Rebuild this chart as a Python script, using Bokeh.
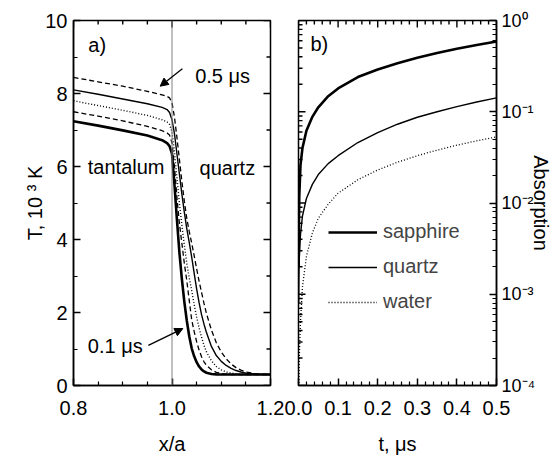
import math
from bokeh.plotting import figure
from bokeh.models import (Range1d, FixedTicker, PrintfTickFormatter, CustomJSTickFormatter,
                          Span, Label, Arrow, NormalHead, Legend, LegendItem)
from bokeh.layouts import row
from bokeh.embed import file_html
from bokeh.resources import INLINE

# ---------------- data: panel a (temperature profiles) ----------------
xa = [0.80, 0.85, 0.90, 0.95, 0.98, 0.99, 0.995, 1.000, 1.005, 1.010, 1.015, 1.020,
      1.025, 1.030, 1.035, 1.040, 1.045, 1.050, 1.055, 1.060, 1.065, 1.070, 1.080,
      1.090, 1.100, 1.110, 1.120, 1.130, 1.140, 1.150, 1.170, 1.200]
T_01 = [7.24, 7.12, 6.99, 6.85, 6.72, 6.64, 6.56, 6.35, 5.5, 4.55, 3.65, 2.92,
        2.3, 1.78, 1.35, 1.02, 0.8, 0.64, 0.52, 0.44, 0.385, 0.35, 0.315,
        0.305, 0.30, 0.30, 0.30, 0.30, 0.30, 0.30, 0.30, 0.30]
T_02 = [7.50, 7.38, 7.25, 7.10, 6.98, 6.92, 6.86, 6.65, 6.0, 5.15, 4.45, 3.9,
        3.35, 2.88, 2.33, 1.8, 1.48, 1.2, 0.97, 0.79, 0.65, 0.55, 0.43,
        0.36, 0.33, 0.31, 0.30, 0.30, 0.30, 0.30, 0.30, 0.30]
T_03 = [7.80, 7.67, 7.54, 7.40, 7.28, 7.22, 7.15, 6.95, 6.4, 5.7, 5.0, 4.4,
        3.85, 3.35, 2.95, 2.6, 2.22, 1.88, 1.58, 1.32, 1.1, 0.92, 0.68,
        0.52, 0.43, 0.37, 0.34, 0.32, 0.31, 0.30, 0.30, 0.30]
T_04 = [8.10, 7.98, 7.85, 7.72, 7.62, 7.56, 7.48, 7.28, 6.9, 6.35, 5.8, 5.25,
        4.75, 4.3, 3.92, 3.52, 3.08, 2.65, 2.27, 1.94, 1.68, 1.45, 1.07,
        0.82, 0.66, 0.55, 0.47, 0.41, 0.37, 0.34, 0.31, 0.30]
T_05 = [8.44, 8.32, 8.20, 8.06, 7.96, 7.92, 7.88, 7.75, 7.35, 6.8, 6.2, 5.6,
        5.05, 4.58, 4.22, 3.9, 3.56, 3.2, 2.86, 2.55, 2.25, 1.97, 1.52,
        1.17, 0.92, 0.73, 0.59, 0.49, 0.42, 0.37, 0.32, 0.30]

# ---------------- data: panel b (absorption) ----------------
tb = [0.0005, 0.001, 0.002, 0.005, 0.01, 0.02, 0.035, 0.05, 0.075, 0.1,
      0.15, 0.2, 0.25, 0.3, 0.35, 0.4, 0.45, 0.5]
sapphire = [0.002, 0.006, 0.012, 0.026, 0.040, 0.062, 0.088, 0.112, 0.148, 0.18,
            0.24, 0.29, 0.34, 0.39, 0.44, 0.49, 0.54, 0.59]
quartz = [0.0008, 0.0015, 0.0025, 0.0045, 0.0072, 0.0112, 0.016, 0.0205, 0.027, 0.033,
          0.046, 0.059, 0.073, 0.087, 0.1, 0.114, 0.128, 0.142]
water = [0.00005, 0.0001, 0.0002, 0.0005, 0.0012, 0.0026, 0.0047, 0.0068, 0.0097, 0.0128,
         0.018, 0.023, 0.028, 0.033, 0.038, 0.043, 0.048, 0.053]

# ---------------- ticks and tick labels ----------------
xa_ticks = [0.8, 1.0, 1.2]
xa_minor = [0.85, 0.9, 0.95, 1.05, 1.1, 1.15]
ya_ticks = [0, 2, 4, 6, 8, 10]
ya_minor = [1, 3, 5, 7, 9]
tb_ticks = [0.0, 0.1, 0.2, 0.3, 0.4, 0.5]
tb_minor = [round(0.02 * i, 2) for i in range(26) if i % 5]
yb_ticks = [1.0, 1e-1, 1e-2, 1e-3, 1e-4]
yb_labels = ["10\u2070", "10\u207b\u00b9", "10\u207b\u00b2", "10\u207b\u00b3", "10\u207b\u2074"]
yb_minor = [m * 10.0 ** e for e in range(-4, 0) for m in range(2, 10)]

FONT = "Liberation Sans"
FS = "20px"
MAJ = 7
MIN = 4
H = 462
TOP = 20
BOTTOM = 77


def style_axis(ax):
    ax.axis_line_width = 1.5
    ax.axis_line_color = "black"
    ax.major_tick_in = MAJ
    ax.major_tick_out = 0
    ax.minor_tick_in = MIN
    ax.minor_tick_out = 0
    ax.major_tick_line_width = 1.5
    ax.minor_tick_line_width = 1.2
    ax.major_label_text_font = FONT
    ax.major_label_text_font_size = FS
    ax.major_label_text_color = "black"
    ax.axis_label_text_font = FONT
    ax.axis_label_text_font_size = FS
    ax.axis_label_text_font_style = "normal"
    ax.axis_label_text_color = "black"


def mirror_ticks(p, pos, edge, horizontal, length):
    # tick marks on a frame edge without labels (glyphs are clipped to the frame)
    if horizontal:
        p.scatter(pos, [edge] * len(pos), marker="dash", angle=math.pi / 2,
                  size=2 * length, line_color="black", line_width=1.4)
    else:
        p.scatter([edge] * len(pos), pos, marker="dash", angle=0,
                  size=2 * length, line_color="black", line_width=1.4)


def lab(p, x, y, text, size=FS):
    p.add_layout(Label(x=x, y=y, text=text, text_font=FONT, text_font_size=size,
                       text_baseline="middle", text_align="left", text_color="black"))


# ---------------- panel a ----------------
pa = figure(width=284, height=H, x_range=Range1d(0.8, 1.2), y_range=Range1d(0, 10),
            output_backend="svg", toolbar_location=None,
            min_border_left=73, min_border_right=14, min_border_top=TOP,
            min_border_bottom=BOTTOM)
pa.xgrid.visible = False
pa.ygrid.visible = False
pa.outline_line_color = "black"
pa.outline_line_width = 1.5

pa.xaxis.ticker = FixedTicker(ticks=xa_ticks, minor_ticks=xa_minor)
pa.yaxis.ticker = FixedTicker(ticks=ya_ticks, minor_ticks=ya_minor)
pa.xaxis.formatter = PrintfTickFormatter(format="%.1f")
pa.yaxis.formatter = PrintfTickFormatter(format="%d")
for ax in pa.xaxis:
    style_axis(ax)
    ax.major_label_standoff = 15
    ax.axis_label_standoff = 15
    ax.axis_label = "x/a"
for ax in pa.yaxis:
    style_axis(ax)
    ax.major_label_standoff = 6
    ax.axis_label_standoff = -4
    ax.axis_label = "T, 10 \u00b3 K"

mirror_ticks(pa, xa_ticks, 10, True, MAJ)
mirror_ticks(pa, xa_minor, 10, True, MIN)
mirror_ticks(pa, ya_ticks, 1.2, False, MAJ)
mirror_ticks(pa, ya_minor, 1.2, False, MIN)

pa.add_layout(Span(location=1.0, dimension="height", line_color="#808080", line_width=1))

pa.line(xa, T_01, line_color="black", line_width=2.6)
pa.line(xa, T_02, line_color="black", line_width=1.3, line_dash="5 3")
pa.line(xa, T_03, line_color="black", line_width=1.4, line_dash="1 2")
pa.line(xa, T_04, line_color="black", line_width=1.4)
pa.line(xa, T_05, line_color="black", line_width=1.3, line_dash="5 3")

lab(pa, 0.830, 9.32, "a)")
lab(pa, 0.829, 6.0, "tantalum")
lab(pa, 1.056, 5.95, "quartz")
lab(pa, 1.047, 8.49, "0.5 \u03bcs")
lab(pa, 0.829, 1.07, "0.1 \u03bcs")

pa.add_layout(Arrow(end=NormalHead(size=8, fill_color="black", line_color="black"),
                    x_start=1.021, y_start=8.68, x_end=0.976, y_end=8.2,
                    line_width=1.3, line_color="black"))
pa.add_layout(Arrow(end=NormalHead(size=8, fill_color="black", line_color="black"),
                    x_start=0.952, y_start=1.10, x_end=1.022, y_end=1.56,
                    line_width=1.3, line_color="black"))

# ---------------- panel b ----------------
pb = figure(width=271, height=H, x_range=Range1d(0, 0.5), y_range=Range1d(1e-4, 1),
            y_axis_type="log", y_axis_location="right",
            output_backend="svg", toolbar_location=None,
            min_border_left=14, min_border_right=59, min_border_top=TOP,
            min_border_bottom=BOTTOM)
pb.xgrid.visible = False
pb.ygrid.visible = False
pb.outline_line_color = "black"
pb.outline_line_width = 1.5

pb.xaxis.ticker = FixedTicker(ticks=tb_ticks, minor_ticks=tb_minor)
pb.xaxis.formatter = PrintfTickFormatter(format="%.1f")
for ax in pb.xaxis:
    style_axis(ax)
    ax.major_label_standoff = 15
    ax.axis_label_standoff = 15
    ax.axis_label = "t, \u03bcs"

pb.yaxis.ticker = FixedTicker(ticks=yb_ticks, minor_ticks=yb_minor)
pb.yaxis.formatter = CustomJSTickFormatter(
    args=dict(labels=yb_labels),
    code="const i = Math.round(-Math.log10(tick)); return labels[i];")
for ax in pb.yaxis:
    style_axis(ax)
    ax.major_label_text_font_size = "18px"
    ax.major_label_standoff = 5
    ax.axis_label_standoff = -8
    ax.axis_label = "Absorption"

mirror_ticks(pb, tb_ticks, 1.0, True, MAJ)
mirror_ticks(pb, tb_minor, 1.0, True, MIN)
mirror_ticks(pb, yb_ticks, 0.0, False, MAJ)
mirror_ticks(pb, yb_minor, 0.0, False, MIN)

r_s = pb.line(tb, sapphire, line_color="black", line_width=2.6)
r_q = pb.line(tb, quartz, line_color="black", line_width=1.4)
r_w = pb.line(tb, water, line_color="black", line_width=1.3, line_dash="1 2")

legend = Legend(items=[LegendItem(label="sapphire", renderers=[r_s]),
                       LegendItem(label="quartz", renderers=[r_q]),
                       LegendItem(label="water", renderers=[r_w])],
                location=(30, 72), border_line_color=None, background_fill_alpha=0,
                label_text_font=FONT, label_text_font_size=FS, glyph_width=49,
                glyph_height=20, label_height=20, spacing=12, padding=0, margin=0,
                label_standoff=6)
pb.add_layout(legend)

lab(pb, 0.03, 0.55, "b)")

layout = row(pa, pb)
open("out.html", "w").write(file_html(layout, INLINE))
